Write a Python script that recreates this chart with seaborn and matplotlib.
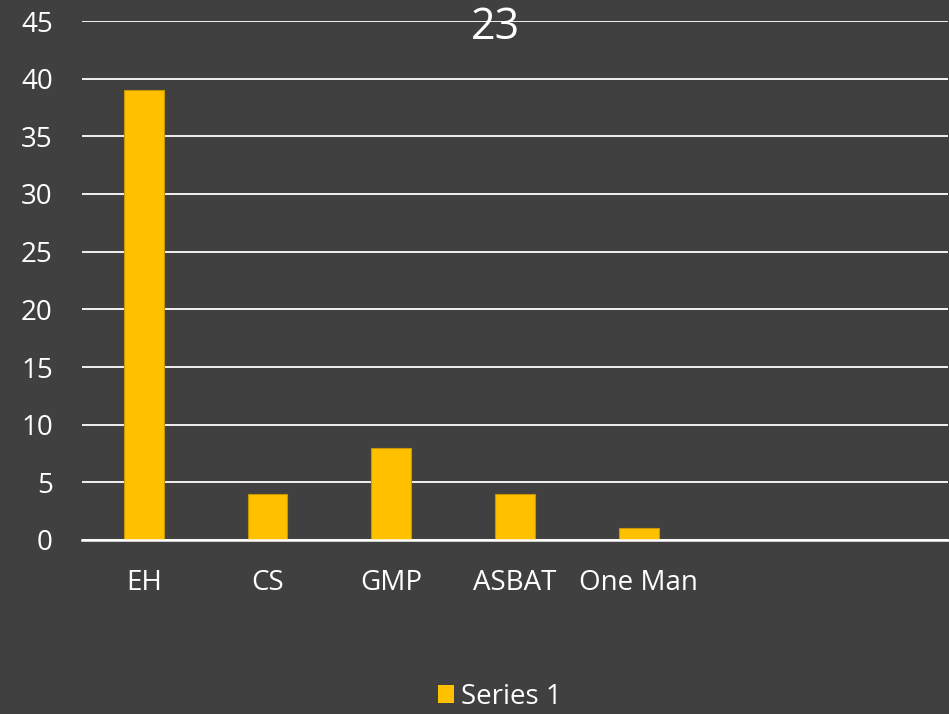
import matplotlib
matplotlib.use("Agg")
import matplotlib.pyplot as plt
import seaborn as sns
import pandas as pd
from matplotlib.patches import Patch

# chart data
categories = ["EH", "CS", "GMP", "ASBAT", "One Man"]
values = [39, 4, 8, 4, 1]
y_ticks = [0, 5, 10, 15, 20, 25, 30, 35, 40, 45]
title = "23"
series_name = "Series 1"

bg = "#404040"
bar_color = "#FFC000"

sns.set_theme(style="dark")
plt.rcParams["font.family"] = ["Open Sans", "DejaVu Sans"]

df = pd.DataFrame({"cat": categories, "val": values})

fig = plt.figure(figsize=(9.49, 7.14), dpi=100, facecolor=bg)
ax = fig.add_axes([82 / 949, 1 - 540 / 714, 866 / 949, 519 / 714])
ax.set_facecolor(bg)

sns.barplot(data=df, x="cat", y="val", order=categories, color=bar_color,
            width=0.32, saturation=1, edgecolor="#C89600", linewidth=0.8,
            ax=ax, zorder=3)

# two empty category slots after the data
ax.set_xlim(-0.5, 6.5)
ax.set_ylim(0, 45)
ax.set_yticks(y_ticks)
ax.set_xlabel("")
ax.set_ylabel("")

ax.yaxis.grid(True, color="white", linewidth=1.3, zorder=1)
ax.xaxis.grid(False)
for s in ["top", "right", "left"]:
    ax.spines[s].set_visible(False)
ax.spines["bottom"].set_color("white")
ax.spines["bottom"].set_linewidth(1.8)
ax.spines["bottom"].set_zorder(4)

ax.tick_params(axis="y", length=0, pad=21, labelsize=20, labelcolor="white")
ax.tick_params(axis="x", length=0, pad=21, labelsize=20, labelcolor="white")

fig.text(495 / 949, 1 - 28 / 714, title, ha="center", va="center",
         fontsize=31, color="white")

fig.legend(handles=[Patch(facecolor=bar_color, edgecolor="none", label=series_name)],
           loc="center", bbox_to_anchor=(500 / 949, 1 - 697 / 714),
           frameon=False, fontsize=20, labelcolor="white",
           handlelength=0.6, handleheight=0.6, handletextpad=0.25)

fig.savefig("out.png", dpi=100, facecolor=bg)
